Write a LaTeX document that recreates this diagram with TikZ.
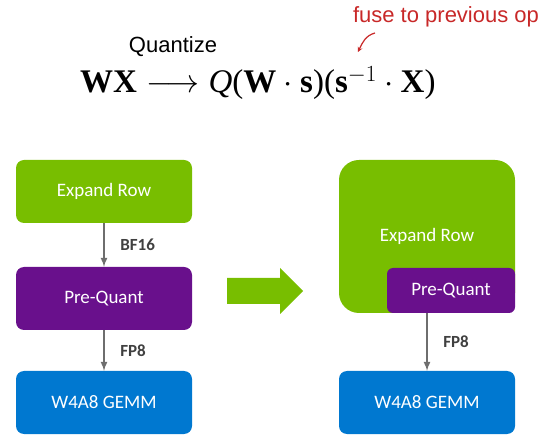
\RequirePackage{fix-cm}
\documentclass[tikz,border=0pt]{standalone}
\usepackage[no-math]{fontspec}
\setmainfont{Carlito}
\newfontfamily\arialfont{Liberation Sans}
\newfontfamily\timesfont{Liberation Serif}
\definecolor{nvgreen}{RGB}{120,190,0}
\definecolor{qpurple}{RGB}{105,16,140}
\definecolor{gemmblue}{RGB}{0,120,208}
\definecolor{flowgray}{RGB}{110,110,110}
\definecolor{labelgray}{RGB}{64,64,64}
\definecolor{notered}{RGB}{200,40,40}
\begin{document}
\begin{tikzpicture}[x=1pt, y=1pt,
    block/.style={rounded corners=8pt, minimum width=176pt, minimum height=63pt,
        text=white, font=\fontsize{19}{22}\selectfont},
    flow/.style={draw=flowgray, line width=2pt, -latex},
    dtype/.style={right=12pt, text=labelgray, font=\bfseries\fontsize{17}{20}\selectfont}]
            \useasboundingbox (0,0) rectangle (554,447);
            
            % the formula on top
            \node (1) [anchor=base, inner sep=0pt, font=\arialfont\fontsize{22}{26}\selectfont] at (173,394) {Quantize};
            \node (2) [anchor=base west, inner sep=0pt, font=\timesfont\fontsize{33}{40}\selectfont] at (80,354)
                {$\mbox{\bfseries WX}\longrightarrow\mbox{\itshape Q}\mbox{(}\mbox{\bfseries W}\cdot\mbox{\bfseries s}\mbox{)(}\mbox{\bfseries s}^{-1}\cdot\mbox{\bfseries X}\mbox{)}$};
            \node (3) [anchor=base, inner sep=0pt, text=notered, font=\arialfont\fontsize{22}{26}\selectfont] at (446,424) {fuse to previous op};
            \coordinate (c1) at (375,414);
            \coordinate (c2) at (358,395);
            \draw [notered, line width=1.2pt, -stealth] (c1) to [out=195, in=65] (c2);
            
            % before
            \node (4) [block, fill=nvgreen] at (104,255.5) {Expand Row};
            \node (5) [block, fill=qpurple, node distance=107pt, below of=4] {Pre-Quant};
            \node (6) [block, fill=gemmblue, node distance=104pt, below of=5] {W4A8 GEMM};
            
            \draw [flow] (4) to node [dtype] {BF16} (5);
            \draw [flow] (5) to node [dtype] {FP8} (6);
            
            % big arrow
            \fill [nvgreen] (227,169) -- (280,169) -- (280,179) -- (303,156) -- (280,133) -- (280,143) -- (227,143) -- cycle;
            
            % after
            \node (7) [block, fill=nvgreen, rounded corners=20pt, minimum height=153pt] at (427,210.5) {Expand Row};
            \node (8) [block, fill=qpurple, rounded corners=6pt, minimum width=128pt, minimum height=45pt,
                anchor=south east] at (7.south east) {Pre-Quant};
            \node (9) [block, fill=gemmblue, node distance=166pt, below of=7] {W4A8 GEMM};
            
            \draw [flow] (7) to node [dtype] {FP8} (9);
        \end{tikzpicture}
\end{document}
